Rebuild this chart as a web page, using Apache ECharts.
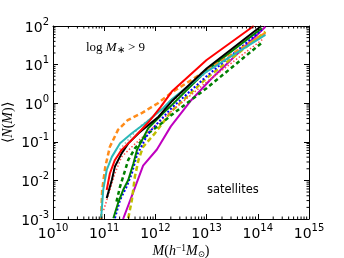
<!DOCTYPE html>
<html><head><meta charset="utf-8">
<script src="https://cdn.jsdelivr.net/npm/echarts@6/dist/echarts.min.js"></script>
<style>html,body{margin:0;padding:0;background:#fff}#c{width:344px;height:258px}</style>
</head><body><div id="c"></div>
<script>
// axis ranges / ticks
const xMin = 1e10, xMax = 1e15;
const yMin = 1e-3, yMax = 1e2;
const xMinorTicks = [];
for (let e = 10; e < 15; e++) for (let k = 2; k <= 9; k++) xMinorTicks.push(k * Math.pow(10, e));
const yMinorTicks = [];
for (let e = -3; e < 2; e++) for (let k = 2; k <= 9; k++) yMinorTicks.push(k * Math.pow(10, e));

// series values: [halo mass M, <N(M)>]
const redSolid = [[1.12e11,5.62e-3],[1.29e11,1.51e-2],[1.62e11,3.39e-2],[2.19e11,6.17e-2],[3.47e11,0.112],[7.24e11,0.316],[1.26e12,0.794],[2.09e12,2.0],[1e13,13.2],[8.32e13,100]];
const blackSolid = [[1.12e11,3.47e-3],[1.41e11,1.02e-2],[1.62e11,2.29e-2],[2.19e11,5.01e-2],[2.95e11,9.12e-2],[4.68e11,0.166],[1.15e12,0.447],[2.09e12,1.12],[1e13,7.94],[1.17e14,100]];
const cyanSolid = [[8.71e10,1.05e-3],[9.55e10,5.62e-3],[1.12e11,1.86e-2],[1.41e11,4.07e-2],[2.04e11,9.12e-2],[3.47e11,0.166],[6.31e11,0.302],[1.41e12,0.741],[2.09e12,1.26],[1e13,6.61],[1.41e14,58.9]];
const orangeDashed = [[8.71e10,1e-3],[9.12e10,5.62e-3],[1.05e11,2.24e-2],[1.29e11,7.41e-2],[1.86e11,0.204],[2.88e11,0.363],[5.5e11,0.562],[1.12e12,1.0],[2.09e12,1.9],[1e13,7.08],[1.41e14,66.1]];
const greenSolid = [[1.51e11,1.05e-3],[1.86e11,2.57e-3],[2.34e11,5.62e-3],[2.95e11,1.02e-2],[3.72e11,2.75e-2],[4.37e11,6.17e-2],[7.24e11,0.224],[1.41e12,0.55],[2.09e12,0.891],[1e13,7.08],[1.2e14,87.1]];
const blueDotted = [[1.62e11,1.05e-3],[2.04e11,3.09e-3],[2.75e11,6.92e-3],[3.47e11,1.51e-2],[4.37e11,4.57e-2],[7.24e11,0.166],[2.09e12,0.759],[1e13,5.01],[1.2e14,79.4]];
const redDotted = [[9.77e10,1.7e-3],[1.29e11,5.62e-3],[1.62e11,1.51e-2],[2.19e11,4.07e-2],[3.47e11,7.41e-2],[7.24e11,0.182],[2.09e12,0.631],[1e13,3.55],[1.32e14,47.9]];
const greenDashed = [[1.74e11,2.82e-3],[2.04e11,6.92e-3],[2.57e11,1.86e-2],[2.95e11,3.39e-2],[3.98e11,6.76e-2],[7.24e11,0.166],[1.32e12,0.302],[2.09e12,0.501],[1e13,2.45],[1.26e14,38.9]];
const yellowDashed = [[2.95e11,1.05e-3],[3.47e11,3.09e-3],[3.98e11,1.26e-2],[4.68e11,3.39e-2],[5.75e11,7.41e-2],[9.77e11,0.166],[2.09e12,0.631],[1e13,4.47],[1.41e14,70.8]];
const magentaSolid = [[2.34e11,1e-3],[3.47e11,3.98e-3],[5.75e11,2.4e-2],[1.07e12,6.31e-2],[2e12,0.251],[4.79e12,1.12],[1.17e13,3.98],[1.41e14,95.5]];
const grayDotted = [[2e11,6.31e-2],[5e11,0.251],[1e12,0.5],[2.09e12,1.05],[1e13,6.31],[1.26e14,60.3]];

const styles = [
  {d: grayDotted, c:'#aaaaaa', w:1.5, t:[1.5,2.5]},
  {d: magentaSolid, c:'#bf00bf', w:2, t:'solid'},
  {d: yellowDashed, c:'#bfbf00', w:2.5, t:[5,3]},
  {d: greenDashed, c:'#008000', w:2.5, t:[4,3]},
  {d: redDotted, c:'#ff4d4d', w:1.5, t:[1.5,2]},
  {d: blueDotted, c:'#0000ff', w:2, t:[2,2]},
  {d: greenSolid, c:'#008000', w:2, t:'solid'},
  {d: orangeDashed, c:'#ff8c1a', w:2.5, t:[5,3]},
  {d: cyanSolid, c:'#2ab8b8', w:2, t:'solid'},
  {d: blackSolid, c:'#000000', w:2, t:'solid'},
  {d: redSolid, c:'#ff0000', w:2, t:'solid'}
];

const FONT = 'DejaVu Sans';
const SERIF = 'Liberation Serif';
function powLabel(v){ const e = Math.round(Math.log10(v)); return '{b|10}{s|' + e + '}'; }
const labelRich = {
  b:{fontSize:14, fontFamily:FONT, color:'#000', lineHeight:18, verticalAlign:'bottom'},
  s:{fontSize:10, fontFamily:FONT, color:'#000', lineHeight:12, verticalAlign:'top'}
};
function axisCommon(showLabel){
  return {
    type:'log', logBase:10, nameMoveOverlap:false,
    axisLine:{show:true, onZero:false, lineStyle:{color:'#000', width:1}},
    axisTick:{show:true, inside:true, length:5, lineStyle:{color:'#000', width:1}},
    splitLine:{show:false},
    axisLabel:{show:showLabel, formatter:powLabel, rich:labelRich, margin:4}
  };
}
function minorX(params, api){
  const v = api.value(0);
  const b = api.coord([v, yMin]), t = api.coord([v, yMax]);
  const st = {stroke:'#000', lineWidth:1};
  return {type:'group', children:[
    {type:'line', shape:{x1:b[0], y1:b[1], x2:b[0], y2:b[1]-2.5}, style:st},
    {type:'line', shape:{x1:t[0], y1:t[1], x2:t[0], y2:t[1]+2.5}, style:st}
  ]};
}
function minorY(params, api){
  const v = api.value(1);
  const l = api.coord([xMin, v]), r = api.coord([xMax, v]);
  const st = {stroke:'#000', lineWidth:1};
  return {type:'group', children:[
    {type:'line', shape:{x1:l[0], y1:l[1], x2:l[0]+2.5, y2:l[1]}, style:st},
    {type:'line', shape:{x1:r[0], y1:r[1], x2:r[0]-2.5, y2:r[1]}, style:st}
  ]};
}
const chart = echarts.init(document.getElementById('c'), null, {renderer:'canvas'});
chart.setOption({
  animation:false,
  backgroundColor:'#fff',
  grid:{left:53, right:35, top:26, bottom:39, containLabel:false, outerBoundsMode:'none'},
  xAxis:[
    Object.assign(axisCommon(true), {min:xMin, max:xMax, position:'bottom',
      name:'{i|M}{r|(}{i|h}{sup|−1}{i|M}{sub|⊙}{r|)}', nameLocation:'middle', nameGap:24,
      nameTextStyle:{rich:{
        i:{fontFamily:SERIF, fontStyle:'italic', fontSize:14, color:'#000', lineHeight:16},
        r:{fontFamily:SERIF, fontSize:14, color:'#000', lineHeight:16},
        sup:{fontFamily:SERIF, fontSize:9.5, color:'#000', verticalAlign:'top', lineHeight:10},
        sub:{fontFamily:'DejaVu Sans', fontSize:8.5, color:'#000', verticalAlign:'bottom', lineHeight:10}
      }}}),
    Object.assign(axisCommon(false), {min:xMin, max:xMax, position:'top'})
  ],
  yAxis:[
    Object.assign(axisCommon(true), {min:yMin, max:yMax, position:'left',
      name:'{r|⟨}{i|N}{r|(}{i|M}{r|)⟩}', nameLocation:'middle', nameGap:38, nameRotate:90,
      nameTextStyle:{rich:{
        i:{fontFamily:SERIF, fontStyle:'italic', fontSize:14, color:'#000'},
        r:{fontFamily:SERIF, fontSize:14, color:'#000'}
      }}}),
    Object.assign(axisCommon(false), {min:yMin, max:yMax, position:'right'})
  ],
  graphic:[
    {type:'text', left:86, top:41, style:{
      text:'{r|log }{i|M}{sub|∗}{r| > 9}',
      rich:{
        r:{fontFamily:SERIF, fontSize:13, fill:'#000', lineHeight:15},
        i:{fontFamily:SERIF, fontStyle:'italic', fontSize:13, fill:'#000', lineHeight:15},
        sub:{fontFamily:SERIF, fontSize:9.5, fill:'#000', verticalAlign:'bottom', lineHeight:10}
      }}},
    {type:'text', left:207, top:184, style:{text:'satellites', fontFamily:FONT, fontSize:11.5, fill:'#000'}}
  ],
  series: styles.map(s => ({
    type:'line', xAxisIndex:0, yAxisIndex:0, data:s.d, showSymbol:false, symbol:'none',
    lineStyle:{color:s.c, width:s.w, type:s.t}, clip:true, silent:true
  })).concat([
    {type:'custom', renderItem:minorX, data:xMinorTicks.map(v => [v, yMin]), clip:false, silent:true, z:5},
    {type:'custom', renderItem:minorY, data:yMinorTicks.map(v => [xMin, v]), clip:false, silent:true, z:5}
  ])
});
</script></body></html>
